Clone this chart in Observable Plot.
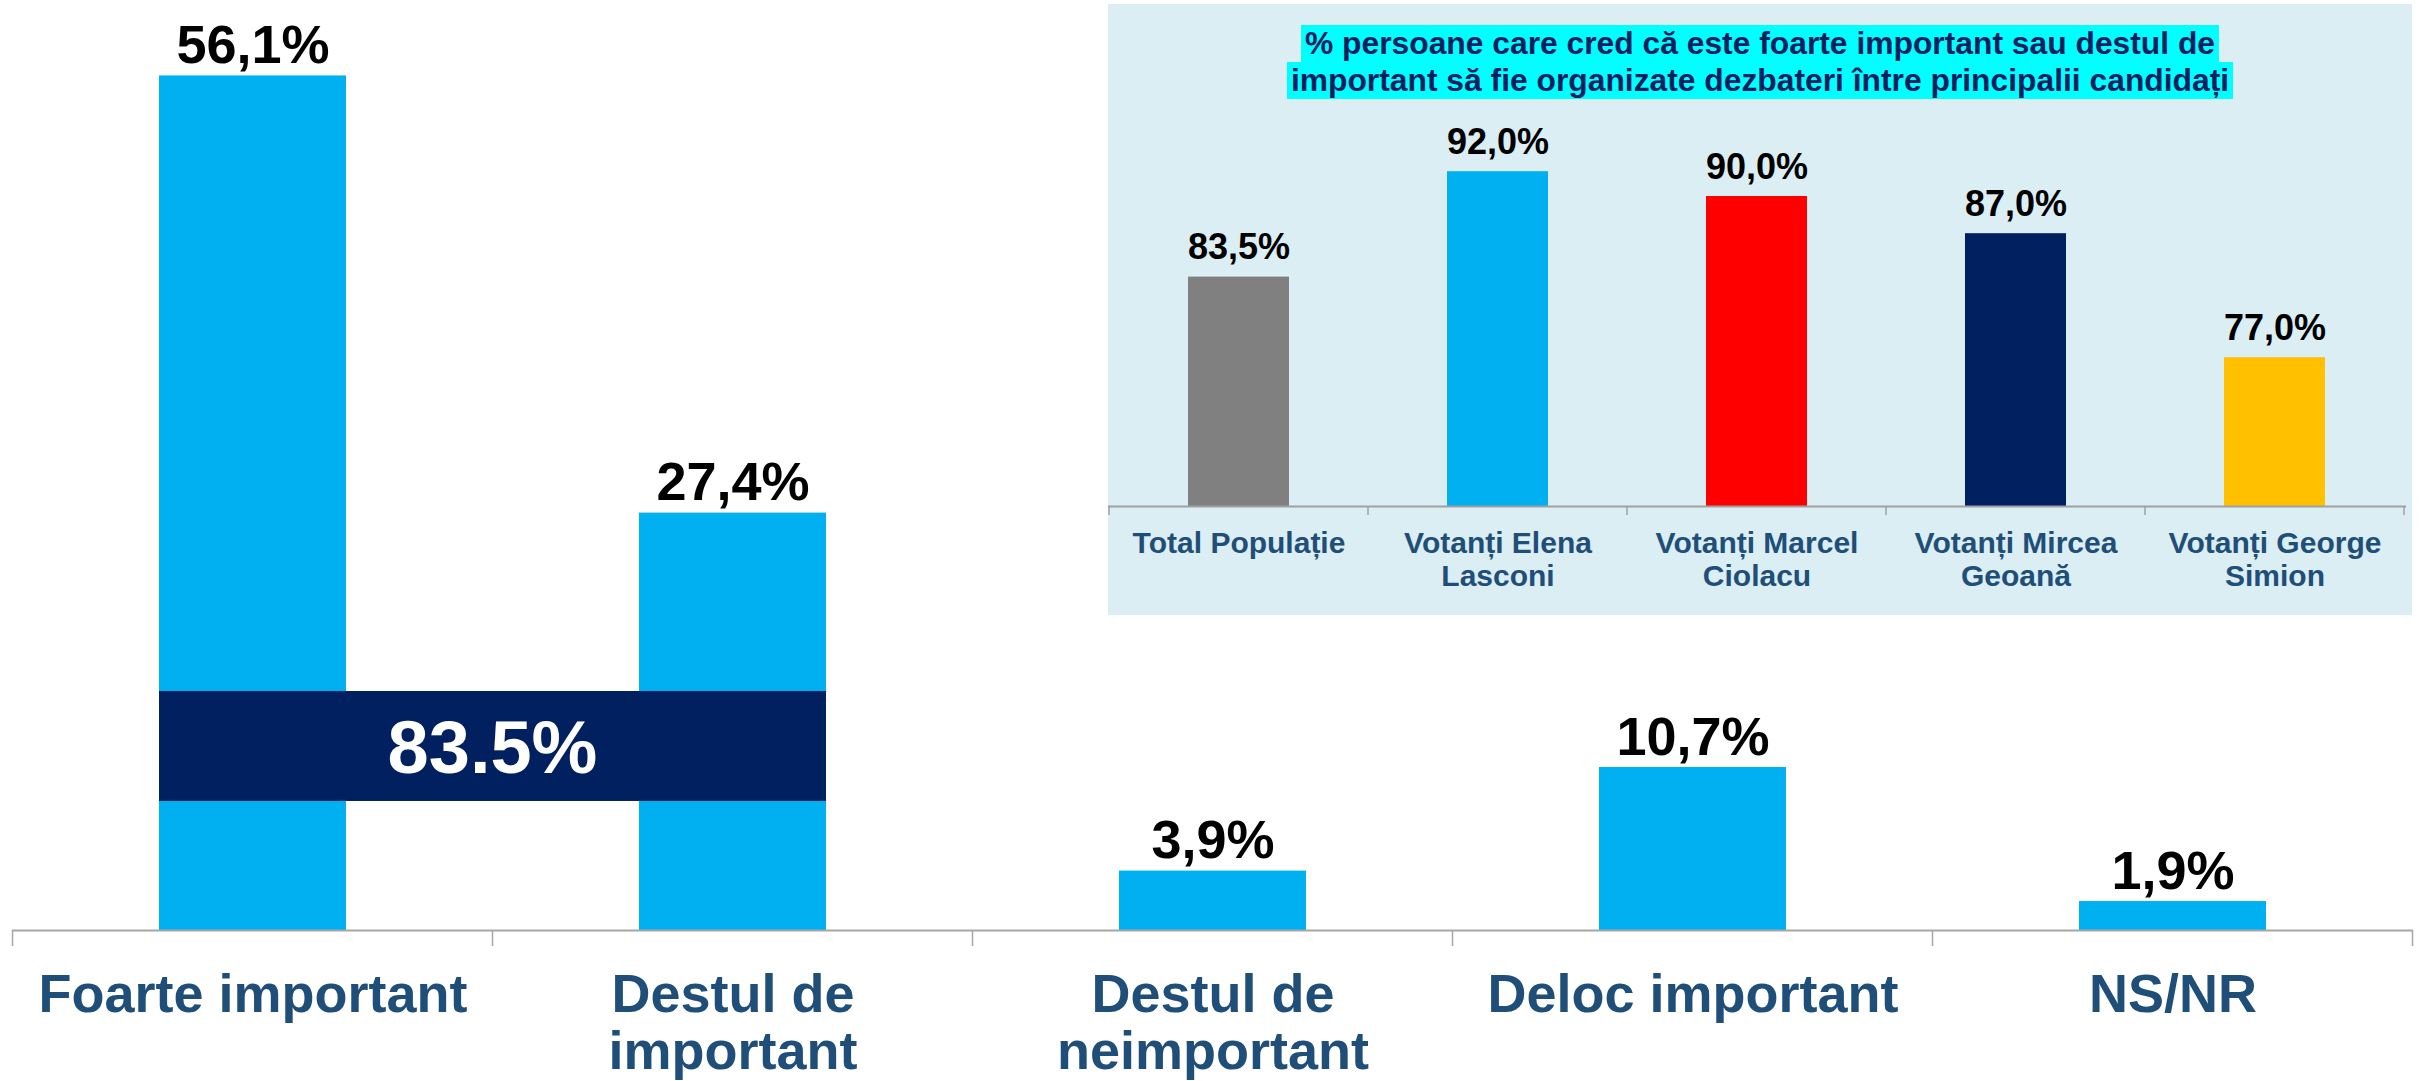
<!DOCTYPE html>
<html><head><meta charset="utf-8">
<script src="https://cdn.jsdelivr.net/npm/d3@7"></script>
<script src="https://cdn.jsdelivr.net/npm/@observablehq/plot@0.6"></script>
<style>
html,body{margin:0;padding:0;background:#fff;}
body{width:2422px;height:1081px;overflow:hidden;font-family:"Liberation Sans",Arial,sans-serif;}
#wrap{position:relative;width:2422px;height:1081px;}
#main{position:absolute;left:0;top:0;}
#inset{position:absolute;left:1108px;top:4px;width:1304px;height:611px;background:#DAEEF3;}
#insetChart{position:absolute;left:0;top:0;}
#insetTitle{position:absolute;left:0;top:21px;width:100%;text-align:center;font-weight:bold;font-size:31.8px;color:#002060;line-height:37px;}
#insetTitle span{background:#00FFFF;display:inline-block;padding:0 4px;white-space:nowrap;}
svg{overflow:visible;}
</style></head><body>
<div id="wrap"><div id="main"></div><div id="inset"><div id="insetChart"></div><div id="insetTitle"></div></div></div>
<script>
// ---- main chart data ----
const categories = ["Foarte important", "Destul de important", "Destul de neimportant", "Deloc important", "NS/NR"];
const categoryLabels = ["Foarte important", "Destul de\nimportant", "Destul de\nneimportant", "Deloc important", "NS/NR"];
const values = [56.1, 27.4, 3.9, 10.7, 1.9];
const valueLabels = ["56,1%", "27,4%", "3,9%", "10,7%", "1,9%"];

// ---- summary band (sum of the first two answers) ----
const summaryLabel = "83.5%";
const summaryFrom = "Foarte important";
const summaryTo = "Destul de important";
const summaryExtent = [8.47, 15.69]; // vertical extent, in value units

// ---- inset chart data ----
const insetTitleLines = [
  "% persoane care cred că este foarte important sau destul de",
  "important să fie organizate dezbateri între principalii candidați"
];
const groups = ["Total Populație", "Votanți Elena Lasconi", "Votanți Marcel Ciolacu", "Votanți Mircea Geoană", "Votanți George Simion"];
const groupLabels = ["Total Populație", "Votanți Elena\nLasconi", "Votanți Marcel\nCiolacu", "Votanți Mircea\nGeoană", "Votanți George\nSimion"];
const groupValues = [83.5, 92.0, 90.0, 87.0, 77.0];
const groupValueLabels = ["83,5%", "92,0%", "90,0%", "87,0%", "77,0%"];
const groupColors = ["#808080", "#00B0F0", "#FF0000", "#002060", "#FFC000"];

const FONT = "'Liberation Sans', Arial, sans-serif";

// ---------------- main chart ----------------
const mainData = categories.map((c, i) => ({cat: c, label: categoryLabels[i], value: values[i], vlabel: valueLabels[i]}));
const main = Plot.plot({
  width: 2422, height: 1081,
  marginLeft: 12, marginRight: 9, marginTop: 16, marginBottom: 151,
  style: {fontFamily: FONT, background: "transparent", overflow: "visible"},
  x: {domain: categories, paddingInner: 0.61, paddingOuter: 0.305, axis: null},
  y: {domain: [0, 60], axis: null},
  marks: [
    Plot.barY(mainData, {x: "cat", y: "value", fill: "#00B0F0"}),
    Plot.ruleY([0], {stroke: "#A6A6A6", strokeWidth: 2}),
    Plot.text(mainData, {x: "cat", y: "value", text: "vlabel", lineAnchor: "bottom", dy: -13,
      fontSize: 54, fontWeight: "bold", fill: "#000"}),
    Plot.text(mainData, {x: "cat", y: 0, text: "label", lineAnchor: "top", dy: 41.5, lineHeight: 1.055,
      fontSize: 54, fontWeight: "bold", fill: "#1F4E79"})
  ]
});
document.getElementById("main").appendChild(main);

// separators and summary band drawn from Plot's own scales
(function () {
  const xs = main.scale("x"), ys = main.scale("y");
  const x0 = xs.apply(categories[0]), x1 = xs.apply(categories[1]);
  const step = x1 - x0;
  const bw = xs.bandwidth;
  const svg = d3.select(main);
  const y0 = ys.apply(0);
  const bounds = categories.map(c => xs.apply(c) - (step - bw) / 2);
  bounds.push(bounds[bounds.length - 1] + step);
  svg.append("g").selectAll("line").data(bounds).join("line")
    .attr("x1", d => d).attr("x2", d => d).attr("y1", y0).attr("y2", y0 + 16)
    .attr("stroke", "#A6A6A6").attr("stroke-width", 1.5);
  const bx1 = xs.apply(summaryFrom), bx2 = xs.apply(summaryTo) + bw;
  const by1 = ys.apply(summaryExtent[1]), by2 = ys.apply(summaryExtent[0]);
  const g = svg.append("g");
  g.append("rect").attr("x", bx1).attr("y", by1).attr("width", bx2 - bx1).attr("height", by2 - by1).attr("fill", "#002060");
  g.append("text").attr("x", (bx1 + bx2) / 2).attr("y", (by1 + by2) / 2 + 0.37 * 74)
    .attr("text-anchor", "middle").attr("font-size", 74).attr("font-weight", "bold")
    .attr("fill", "#fff").attr("font-family", FONT).text(summaryLabel);
})();

// ---------------- inset chart ----------------
const insetData = groups.map((g, i) => ({g, label: groupLabels[i], value: groupValues[i], vlabel: groupValueLabels[i]}));
const inset = Plot.plot({
  width: 1304, height: 611,
  marginLeft: 0, marginRight: 6, marginTop: 68, marginBottom: 109,
  style: {fontFamily: FONT, background: "transparent", overflow: "visible"},
  x: {domain: groups, paddingInner: 0.61, paddingOuter: 0.305, axis: null},
  y: {domain: [65, 100], axis: null},
  color: {domain: groups, range: groupColors},
  marks: [
    Plot.barY(insetData, {x: "g", y1: 65, y2: "value", fill: "g"}),
    Plot.ruleY([65], {stroke: "#A0A0A0", strokeWidth: 2}),
    Plot.text(insetData, {x: "g", y: "value", text: "vlabel", lineAnchor: "bottom", dy: -18,
      fontSize: 36, fontWeight: "bold", fill: "#000"}),
    Plot.text(insetData, {x: "g", y: 65, text: "label", lineAnchor: "top", dy: 23, lineHeight: 1.1,
      fontSize: 30, fontWeight: "bold", fill: "#1F4E79"})
  ]
});
document.getElementById("insetChart").appendChild(inset);
(function () {
  const xs = inset.scale("x"), ys = inset.scale("y");
  const step = xs.apply(groups[1]) - xs.apply(groups[0]);
  const bw = xs.bandwidth;
  const y0 = ys.apply(65);
  const bounds = groups.map(c => xs.apply(c) - (step - bw) / 2);
  bounds.push(bounds[bounds.length - 1] + step);
  d3.select(inset).append("g").selectAll("line").data(bounds).join("line")
    .attr("x1", d => d).attr("x2", d => d).attr("y1", y0).attr("y2", y0 + 9)
    .attr("stroke", "#A0A0A0").attr("stroke-width", 1.5);
})();

const title = document.getElementById("insetTitle");
insetTitleLines.forEach(l => {
  const d = document.createElement("div");
  const s = document.createElement("span");
  s.textContent = l;
  d.appendChild(s);
  title.appendChild(d);
});
</script>
</body></html>
